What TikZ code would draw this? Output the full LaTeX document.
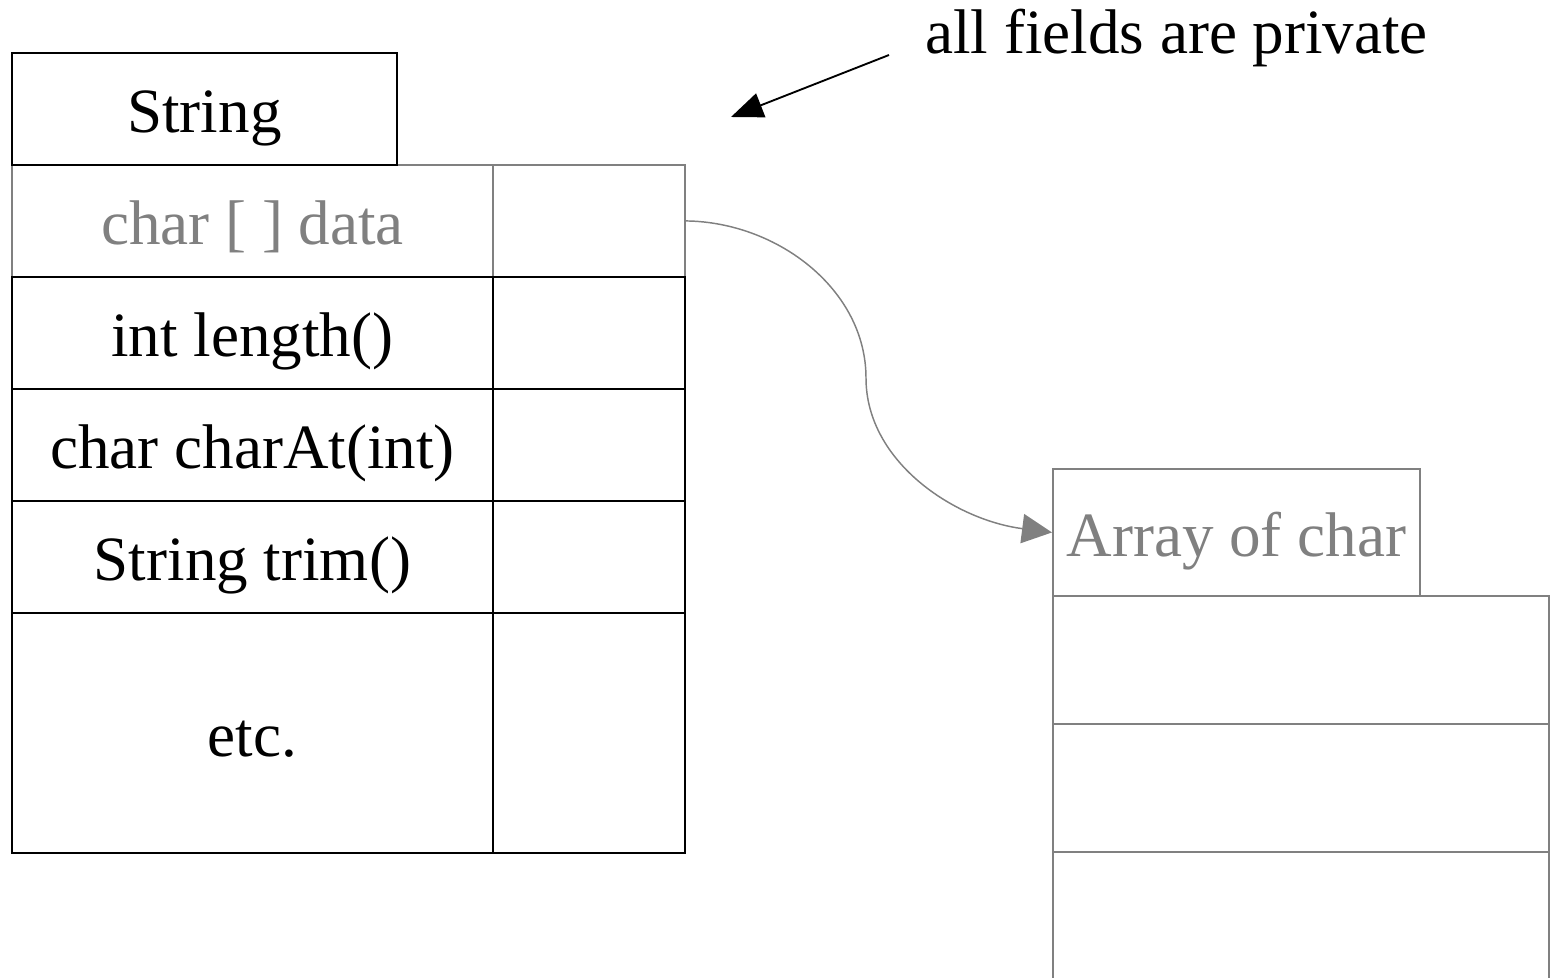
\documentclass[tikz,border=0pt]{standalone}
\usepackage{fontspec}
\setmainfont{Liberation Serif}
\usetikzlibrary{arrows.meta}
\definecolor{lgray}{HTML}{808080}
\begin{document}
\begin{tikzpicture}[x=0.75pt,y=-0.75pt,
  cell/.style={draw, line width=1.4pt, anchor=north west, inner sep=0pt,
    minimum width=#1, text height=36pt, text depth=0pt,
    font=\fontsize{47.3}{56}\selectfont},
  cell/.default=144pt,
  gcell/.style={cell=#1, draw=lgray, text=lgray},
  gcell/.default=144pt,
  rowh/.style={minimum height=84pt}]
\useasboundingbox (0,0) rectangle (1554,978);
% String object
\node[gcell=360.75pt, rowh] (d) at (11,164) {char [ ] data};
\node[gcell, rowh] (dv) at (492,164) {};
\node[cell=288.75pt, rowh] (s) at (11,52) {String};
\node[cell=360.75pt, rowh] (l) at (11,276) {int length()};
\node[cell, rowh] (lv) at (492,276) {};
\node[cell=360.75pt, rowh] (c) at (11,388) {char charAt(int)};
\node[cell, rowh] (cv) at (492,388) {};
\node[cell=360.75pt, rowh] (t) at (11,500) {String trim()};
\node[cell, rowh] (tv) at (492,500) {};
\node[cell=360.75pt, minimum height=180pt] (e) at (11,612) {etc.};
\node[cell, minimum height=180pt] (ev) at (492,612) {};
% array object
\node[gcell=275.25pt, minimum height=95.25pt] (a) at (1052,468) {Array of char};
\node[gcell=372pt, minimum height=96pt] (a1) at (1052,595) {};
\node[gcell=372pt, minimum height=96pt] (a2) at (1052,723) {};
\node[gcell=372pt, minimum height=150pt] (a3) at (1052,851) {};
% reference arrow
\draw[lgray, line width=1.1pt, -{Triangle[length=22.5pt,width=22pt]}]
  (dv.east) .. controls (778,222) and (866,290) .. (866,378)
  .. controls (866,462) and (955,520) .. (a.west);
% note
\node[anchor=base west, inner sep=0pt, font=\fontsize{47.3}{56}\selectfont] (note) at (925,53) {all fields are private};
\coordinate (nt) at (889,55);
\coordinate (np) at (731,117);
\draw[line width=1.4pt, -{Triangle[length=24pt,width=19pt]}] (nt) -- (np);
\end{tikzpicture}
\end{document}
